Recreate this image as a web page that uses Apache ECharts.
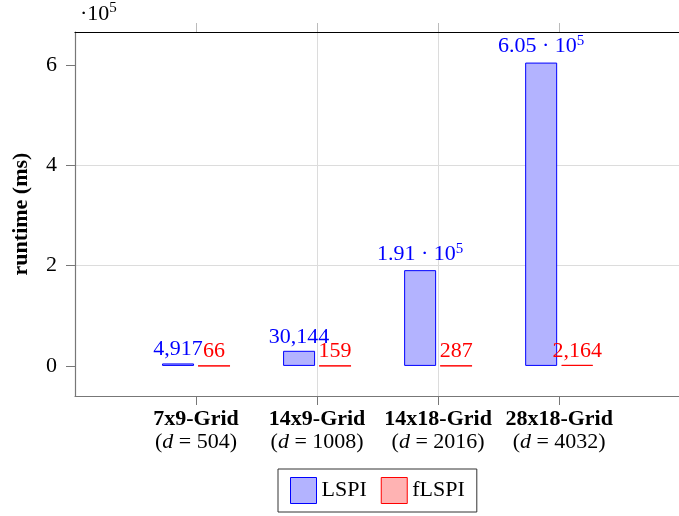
<!DOCTYPE html>
<html>
<head>
<meta charset="utf-8">
<script src="https://cdn.jsdelivr.net/npm/echarts@6/dist/echarts.min.js"></script>
<style>
  html, body { margin: 0; padding: 0; background: #fff; }
  #main { width: 679px; height: 516px; }
</style>
</head>
<body>
<div id="main"></div>
<script>
  // 数据
  var categories = ['7x9-Grid', '14x9-Grid', '14x18-Grid', '28x18-Grid'];
  var dims = [504, 1008, 2016, 4032];
  var lspiValues = [4917, 30144, 191000, 605000];
  var flspiValues = [66, 159, 287, 2164];
  var yTicks = [0, 200000, 400000, 600000];
  var xTicks = [0, 1, 2, 3];

  var serif = '"Liberation Serif", "DejaVu Serif", serif';
  var fs = 22;

  function toPairs(arr) {
    return arr.map(function (v, i) { return [i, v]; });
  }

  // pgfplots 风格的数字
  function fmtNum(v) {
    if (v >= 100000) {
      return (v / 100000).toFixed(2) + ' · 10{sup|5}';
    }
    return v.toLocaleString('en-US');
  }

  function barLabel(color) {
    return {
      show: true,
      position: 'top',
      distance: 3,
      color: color,
      fontFamily: serif,
      fontSize: fs,
      formatter: function (p) { return fmtNum(p.value[1]); },
      rich: {
        sup: { fontSize: 15, color: color, fontFamily: serif, verticalAlign: 'top', padding: [0, 0, 11, 0] }
      }
    };
  }

  var chart = echarts.init(document.getElementById('main'));

  var option = {
    animation: false,
    backgroundColor: '#fff',
    grid: {
      left: 75,
      top: 32,
      right: 0,
      bottom: 120
    },
    // 左上角的 ·10^5
    graphic: [{
      type: 'text',
      left: 80,
      top: 1,
      style: {
        text: '·10{sup|5}',
        fontFamily: serif,
        fontSize: fs,
        fill: '#000',
        rich: {
          sup: { fontSize: 15, fontFamily: serif, verticalAlign: 'top', padding: [0, 0, 11, 0] }
        }
      }
    }],
    legend: {
      left: 278,
      top: 469,
      padding: [8, 12, 8, 12],
      itemGap: 14,
      itemWidth: 26,
      itemHeight: 26,
      icon: 'rect',
      borderColor: '#333',
      borderWidth: 1,
      itemStyle: { borderWidth: 1 },
      textStyle: { fontFamily: serif, fontSize: fs, color: '#000' },
      data: ['LSPI', 'fLSPI']
    },
    xAxis: [{
      type: 'value',
      min: -1,
      max: 3.99,
      interval: 1,
      axisLine: { show: true, onZero: false, lineStyle: { color: '#777', width: 1.2 } },
      axisTick: { show: true, length: 9, customValues: xTicks, lineStyle: { color: '#777' } },
      axisLabel: {
        customValues: xTicks,
        margin: 12,
        color: '#000',
        fontFamily: serif,
        formatter: function (v) {
          var i = Math.round(v);
          if (i < 0 || i > 3) return '';
          return '{b|' + categories[i] + '}\n{n|(}{i|d}{n| = ' + dims[i] + ')}';
        },
        rich: {
          b: { fontFamily: serif, fontSize: fs, fontWeight: 'bold', lineHeight: 23, color: '#000' },
          n: { fontFamily: serif, fontSize: fs, lineHeight: 23, color: '#000' },
          i: { fontFamily: serif, fontSize: fs, fontStyle: 'italic', lineHeight: 23, color: '#000' }
        }
      },
      splitLine: { show: true, showMinLine: false, showMaxLine: false, lineStyle: { color: '#dcdcdc' } }
    }, {
      type: 'value',
      position: 'top',
      min: -1,
      max: 3.99,
      interval: 1,
      axisLine: { show: true, onZero: false, lineStyle: { color: '#000', width: 1.2 } },
      axisTick: { show: true, length: 9, customValues: xTicks, lineStyle: { color: '#bbb' } },
      axisLabel: { show: false },
      splitLine: { show: false }
    }],
    yAxis: {
      type: 'value',
      min: -60000,
      max: 666000,
      splitNumber: 3,
      name: 'runtime (ms)',
      nameLocation: 'middle',
      nameGap: 43,
      nameTextStyle: { fontFamily: serif, fontSize: fs, fontWeight: 'bold', color: '#000' },
      axisLine: { show: true, onZero: false, lineStyle: { color: '#777', width: 1.2 } },
      axisTick: { show: true, length: 9, customValues: yTicks, lineStyle: { color: '#777' } },
      axisLabel: {
        customValues: yTicks,
        margin: 18,
        color: '#000',
        fontFamily: serif,
        fontSize: fs,
        formatter: function (v) { return String(Math.round(v / 100000)); }
      },
      splitLine: { show: true, showMinLine: false, showMaxLine: false, lineStyle: { color: '#dcdcdc' } }
    },
    series: [{
      name: 'LSPI',
      type: 'bar',
      barWidth: 32,
      barGap: '12.5%',
      data: toPairs(lspiValues),
      itemStyle: { color: '#b3b3ff', borderColor: '#0000ff', borderWidth: 1 },
      label: barLabel('#0000ff')
    }, {
      name: 'fLSPI',
      type: 'bar',
      barWidth: 32,
      barGap: '12.5%',
      data: toPairs(flspiValues),
      itemStyle: { color: '#ffb3b3', borderColor: '#ff0000', borderWidth: 1 },
      label: barLabel('#ff0000')
    }]
  };

  chart.setOption(option);
</script>
</body>
</html>
